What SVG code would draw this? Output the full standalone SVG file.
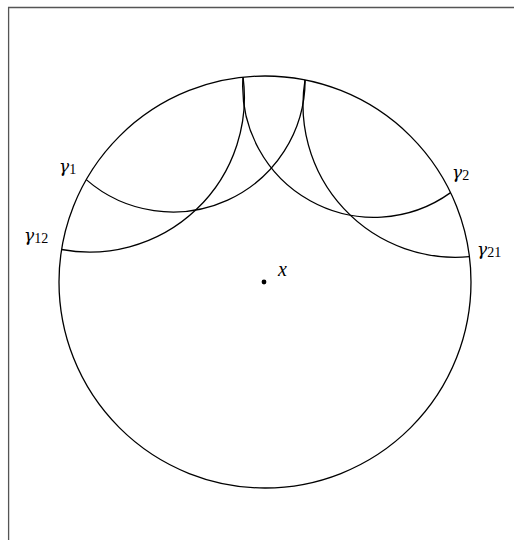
<svg xmlns="http://www.w3.org/2000/svg" width="514" height="540" viewBox="0 0 514 540">
<style>
.frame{fill:none;stroke:#555;stroke-width:1.3}
.curve{fill:none;stroke:#000;stroke-width:1.3}
.lbl{font-family:"DejaVu Serif","Liberation Serif",serif;font-size:17px;fill:#000}
.it{font-style:italic}
.xl{font-family:"Liberation Serif","DejaVu Serif",serif;font-size:20px;font-style:italic}
.sub{font-family:"Liberation Serif","DejaVu Serif",serif;font-size:14px;font-style:normal}
</style>
<rect width="514" height="540" fill="#fff"/>
<path class="frame" d="M8.6 540 V7.5 H514"/>
<g id="disk">
<circle class="curve" cx="265" cy="282" r="206"/>
</g>
<g id="connectors">
<path id="g1" class="curve" d="M86.24 179.63 A132.2 132.2 0 0 0 305.1 79.95"/>
<path id="g12" class="curve" d="M61.58 249.51 A154.7 154.7 0 0 0 243.06 77.17"/>
<path id="g2" class="curve" d="M450.61 192.64 A131.3 131.3 0 0 1 242.99 77.18"/>
<path id="g21" class="curve" d="M469.44 256.65 A152.5 152.5 0 0 1 305.04 79.93"/>
</g>
<g id="point-x">
<circle cx="264" cy="282" r="2.4" fill="#000"/>
<text class="lbl xl" x="278" y="276">x</text>
</g>
<g id="label-g1"><text class="lbl it" x="59" y="172">γ<tspan class="sub" dy="2">1</tspan></text></g>
<g id="label-g12"><text class="lbl it" x="24" y="241">γ<tspan class="sub" dy="2">12</tspan></text></g>
<g id="label-g2"><text class="lbl it" x="452" y="178">γ<tspan class="sub" dy="2">2</tspan></text></g>
<g id="label-g21"><text class="lbl it" x="477" y="255">γ<tspan class="sub" dy="2">21</tspan></text></g>
</svg>
